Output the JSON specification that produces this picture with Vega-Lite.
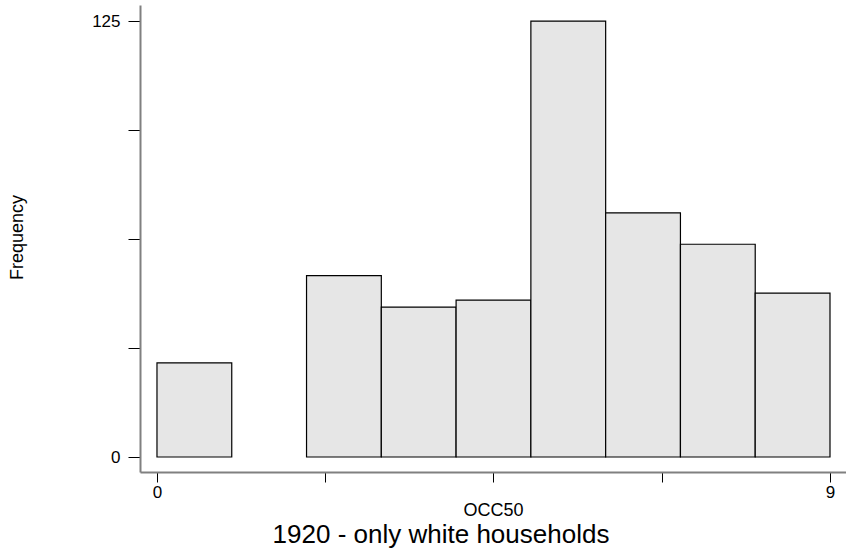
{
  "$schema": "https://vega.github.io/schema/vega-lite/v6.json",
  "width": 706,
  "height": 467,
  "autosize": {"type": "none"},
  "padding": {"left": 140, "top": 5, "right": 0, "bottom": 83},
  "background": "white",
  "title": {
    "text": "1920 - only white households",
    "orient": "bottom",
    "anchor": "middle",
    "font": "Liberation Sans",
    "fontSize": 26,
    "fontWeight": "normal",
    "color": "black",
    "offset": 3,
    "dx": -52
  },
  "config": {
    "view": {"stroke": null},
    "axis": {"grid": false, "labelFont": "Liberation Sans", "titleFont": "Liberation Sans", "labelColor": "black", "titleColor": "black", "titleFontWeight": "normal", "domainColor": "#808080", "domainWidth": 2, "tickColor": "black", "tickWidth": 1}
  },
  "data": {
    "values": [
      {"bin_start": 0, "bin_end": 1, "count": 27},
      {"bin_start": 2, "bin_end": 3, "count": 52},
      {"bin_start": 3, "bin_end": 4, "count": 43},
      {"bin_start": 4, "bin_end": 5, "count": 45},
      {"bin_start": 5, "bin_end": 6, "count": 125},
      {"bin_start": 6, "bin_end": 7, "count": 70},
      {"bin_start": 7, "bin_end": 8, "count": 61},
      {"bin_start": 8, "bin_end": 9, "count": 47}
    ]
  },
  "mark": {"type": "bar", "fill": "#e6e6e6", "stroke": "black", "strokeWidth": 1.2},
  "encoding": {
    "x": {
      "field": "bin_start",
      "type": "quantitative",
      "scale": {"domain": [-0.227, 9.214], "nice": false, "zero": false},
      "axis": {
        "title": "OCC50",
        "titleFontSize": 18,
        "titleY": 43,
        "titleBaseline": "alphabetic",
        "labelFontSize": 17,
        "tickSize": 10,
        "labelPadding": 2,
        "values": [0, 2.25, 4.5, 6.75, 9],
        "labelExpr": "datum.value == 0 || datum.value == 9 ? datum.label : ''"
      }
    },
    "x2": {"field": "bin_end"},
    "y": {
      "field": "count",
      "type": "quantitative",
      "scale": {"domain": [-4.3, 129.6], "nice": false, "zero": false},
      "axis": {
        "title": "Frequency",
        "titleFontSize": 18,
        "titleX": -114,
        "titleY": 232,
        "labelFontSize": 17,
        "tickSize": 12,
        "labelPadding": 8,
        "values": [0, 31.25, 62.5, 93.75, 125],
        "labelExpr": "datum.value == 0 || datum.value == 125 ? datum.label : ''"
      }
    },
    "y2": {"datum": 0}
  }
}
